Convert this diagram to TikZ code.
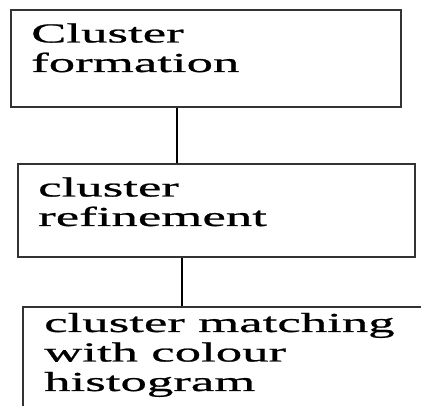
\documentclass[tikz,border=0pt]{standalone}
\usepackage{fontspec}
\newfontfamily\boxfont[FakeStretch=1.92,FakeBold=0.8]{Liberation Serif}
\begin{document}
\begin{tikzpicture}[x=1pt,y=1pt,
    stagebox/.style={draw=black!80, line width=1.6pt, fill=white, minimum width=#1, anchor=north west, inner sep=0pt},
    stagetext/.style={anchor=base west, inner sep=0pt, align=left, font=\boxfont\fontsize{27.5}{29.5}\selectfont},
    link/.style={line width=1.6pt, black}]
  \useasboundingbox (0,0) rectangle (421,406);
  % process boxes (top to bottom)
  \node[stagebox=390pt, minimum height=97pt] (b1) at (10,397) {};
  \node[stagebox=397pt, minimum height=93pt] (b2) at (17,243) {};
  \node[stagebox=420pt, minimum height=130pt] (b3) at (22,100) {};
  % box captions (anchored at the baseline of the last line)
  \node[stagetext] (t1) at (31,334) {Cluster\\formation};
  \node[stagetext] (t2) at (38,180) {cluster\\refinement};
  \node[stagetext] (t3) at (44,15) {cluster matching\\with colour\\histogram};
  % connectors
  \path (b1.south west) ++(167,0) coordinate (c1);
  \path (b2.south west) ++(165,0) coordinate (c2);
  \draw[link] (c1) -- (c1 |- b2.north);
  \draw[link] (c2) -- (c2 |- b3.north);
\end{tikzpicture}
\end{document}
